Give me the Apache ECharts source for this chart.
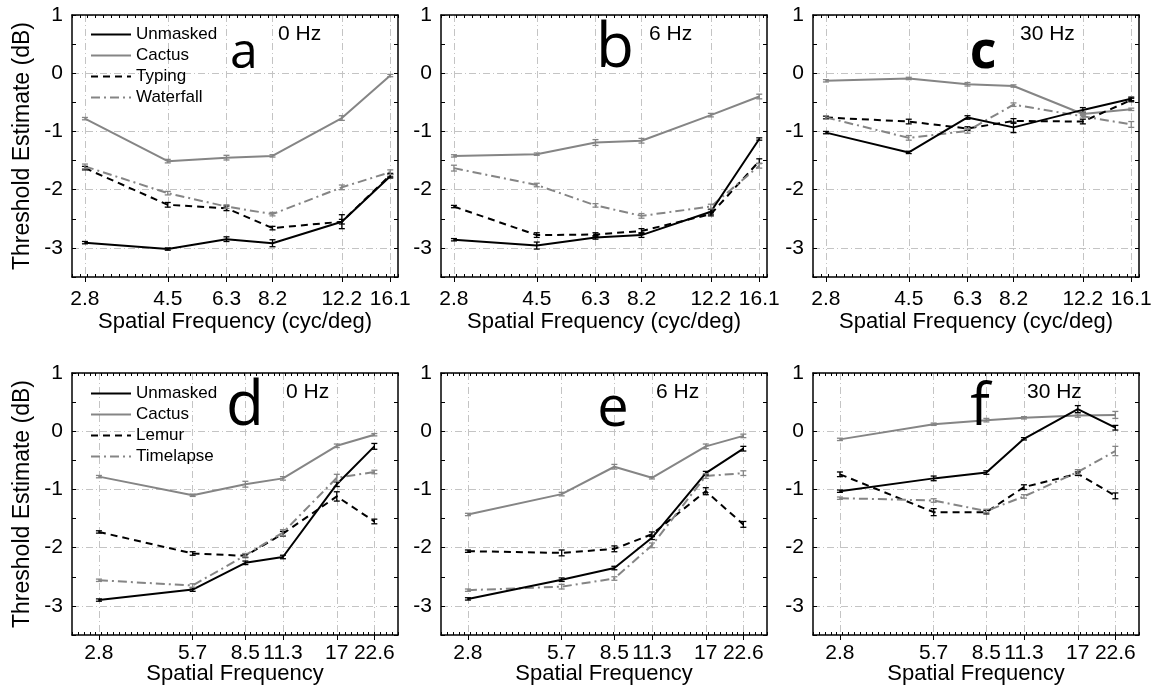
<!DOCTYPE html>
<html>
<head>
<meta charset="UTF-8">
<title>Threshold estimates</title>
<script src="https://cdn.jsdelivr.net/npm/echarts@6/dist/echarts.min.js"></script>
<style>html,body{margin:0;padding:0;background:#fff;}</style>
</head>
<body>
<div id="chart" style="width:1162px;height:693px;"></div>
<script>
// x values (cyc/deg) and tick labels
var freqTop = [2.8, 4.5, 6.3, 8.2, 12.2, 16.1];
var freqBottom = [2.8, 5.7, 8.5, 11.3, 17, 22.6];
var namesTop = ['Unmasked', 'Cactus', 'Typing', 'Waterfall'];
var namesBottom = ['Unmasked', 'Cactus', 'Lemur', 'Timelapse'];
var yLabels = [-3, -2, -1, 0, 1];

// panel a - 0 Hz
var aUnmasked = [-2.91, -3.02, -2.85, -2.92, -2.55, -1.77];
var aCactus = [-0.78, -1.51, -1.45, -1.42, -0.77, -0.04];
var aTyping = [-1.63, -2.26, -2.32, -2.66, -2.55, -1.75];
var aWaterfall = [-1.60, -2.06, -2.29, -2.42, -1.96, -1.70];
var aUnmaskedErr = [0.02, 0.02, 0.04, 0.06, 0.12, 0.03];
var aCactusErr = [0.02, 0.03, 0.04, 0.02, 0.04, 0.02];
var aTypingErr = [0.03, 0.04, 0.04, 0.03, 0.04, 0.03];
var aWaterfallErr = [0.04, 0.03, 0.03, 0.03, 0.04, 0.04];

// panel b - 6 Hz
var bUnmasked = [-2.86, -2.96, -2.82, -2.78, -2.38, -1.13];
var bCactus = [-1.42, -1.39, -1.19, -1.16, -0.72, -0.40];
var bTyping = [-2.29, -2.78, -2.77, -2.71, -2.42, -1.51];
var bWaterfall = [-1.63, -1.92, -2.27, -2.45, -2.29, -1.59];
var bUnmaskedErr = [0.02, 0.06, 0.03, 0.04, 0.04, 0.02];
var bCactusErr = [0.02, 0.02, 0.05, 0.04, 0.03, 0.04];
var bTypingErr = [0.02, 0.04, 0.03, 0.04, 0.03, 0.04];
var bWaterfallErr = [0.05, 0.03, 0.03, 0.04, 0.04, 0.04];

// panel c - 30 Hz
var cUnmasked = [-1.02, -1.36, -0.76, -0.93, -0.63, -0.44];
var cCactus = [-0.13, -0.09, -0.19, -0.22, -0.70, -0.62];
var cTyping = [-0.76, -0.83, -0.95, -0.82, -0.83, -0.46];
var cWaterfall = [-0.76, -1.11, -0.99, -0.54, -0.74, -0.88];
var cUnmaskedErr = [0.02, 0.02, 0.03, 0.09, 0.04, 0.03];
var cCactusErr = [0.02, 0.02, 0.03, 0.02, 0.03, 0.02];
var cTypingErr = [0.02, 0.04, 0.03, 0.04, 0.04, 0.03];
var cWaterfallErr = [0.03, 0.04, 0.04, 0.03, 0.03, 0.05];

// panel d - 0 Hz
var dUnmasked = [-2.90, -2.72, -2.26, -2.16, -0.91, -0.26];
var dCactus = [-0.78, -1.10, -0.91, -0.81, -0.25, -0.06];
var dLemur = [-1.73, -2.10, -2.14, -1.76, -1.12, -1.55];
var dTimelapse = [-2.56, -2.65, -2.13, -1.74, -0.80, -0.70];
var dUnmaskedErr = [0.02, 0.03, 0.03, 0.03, 0.04, 0.05];
var dCactusErr = [0.02, 0.02, 0.05, 0.03, 0.03, 0.02];
var dLemurErr = [0.02, 0.03, 0.03, 0.04, 0.08, 0.04];
var dTimelapseErr = [0.02, 0.03, 0.03, 0.05, 0.06, 0.03];

// panel e - 6 Hz
var eUnmasked = [-2.88, -2.55, -2.35, -1.83, -0.72, -0.30];
var eCactus = [-1.43, -1.08, -0.61, -0.80, -0.26, -0.08];
var eLemur = [-2.06, -2.09, -2.02, -1.77, -1.03, -1.60];
var eTimelapse = [-2.73, -2.67, -2.53, -1.96, -0.77, -0.72];
var eUnmaskedErr = [0.02, 0.03, 0.03, 0.03, 0.03, 0.04];
var eCactusErr = [0.02, 0.03, 0.04, 0.02, 0.04, 0.03];
var eLemurErr = [0.02, 0.05, 0.05, 0.04, 0.06, 0.05];
var eTimelapseErr = [0.02, 0.04, 0.03, 0.04, 0.04, 0.04];

// panel f - 30 Hz
var fUnmasked = [-1.03, -0.81, -0.71, -0.13, 0.38, 0.06];
var fCactus = [-0.14, 0.12, 0.19, 0.23, 0.27, 0.28];
var fLemur = [-0.74, -1.39, -1.39, -0.96, -0.73, -1.11];
var fTimelapse = [-1.15, -1.19, -1.37, -1.12, -0.70, -0.34];
var fUnmaskedErr = [0.02, 0.04, 0.03, 0.02, 0.06, 0.04];
var fCactusErr = [0.02, 0.02, 0.03, 0.02, 0.03, 0.06];
var fLemurErr = [0.04, 0.06, 0.03, 0.04, 0.03, 0.05];
var fTimelapseErr = [0.02, 0.03, 0.03, 0.03, 0.04, 0.08];

var FONT = '"Liberation Sans", Arial, Helvetica, sans-serif';
var LETTER_FONT = '"Open Sans", "Liberation Sans", sans-serif';
var BLACK = '#000000';
var GRAY = '#858585';
var GRID_COLOR = '#c4c4c4';

var panels = [
  {letter: 'a', hz: '0 Hz', row: 0, col: 0, freqs: freqTop, names: namesTop,
   vals: [aUnmasked, aCactus, aTyping, aWaterfall], errs: [aUnmaskedErr, aCactusErr, aTypingErr, aWaterfallErr]},
  {letter: 'b', hz: '6 Hz', row: 0, col: 1, freqs: freqTop, names: namesTop,
   vals: [bUnmasked, bCactus, bTyping, bWaterfall], errs: [bUnmaskedErr, bCactusErr, bTypingErr, bWaterfallErr]},
  {letter: 'c', hz: '30 Hz', row: 0, col: 2, freqs: freqTop, names: namesTop,
   vals: [cUnmasked, cCactus, cTyping, cWaterfall], errs: [cUnmaskedErr, cCactusErr, cTypingErr, cWaterfallErr]},
  {letter: 'd', hz: '0 Hz', row: 1, col: 0, freqs: freqBottom, names: namesBottom,
   vals: [dUnmasked, dCactus, dLemur, dTimelapse], errs: [dUnmaskedErr, dCactusErr, dLemurErr, dTimelapseErr]},
  {letter: 'e', hz: '6 Hz', row: 1, col: 1, freqs: freqBottom, names: namesBottom,
   vals: [eUnmasked, eCactus, eLemur, eTimelapse], errs: [eUnmaskedErr, eCactusErr, eLemurErr, eTimelapseErr]},
  {letter: 'f', hz: '30 Hz', row: 1, col: 2, freqs: freqBottom, names: namesBottom,
   vals: [fUnmasked, fCactus, fLemur, fTimelapse], errs: [fUnmaskedErr, fCactusErr, fLemurErr, fTimelapseErr]}
];

// layout
var gridLeft = [72, 441, 813];
var gridTop = [15, 373];
var gridW = 326, gridH = 262;
var xRange = [[2.6, 16.83], [2.283, 27.04]];
var xTitle = ['Spatial Frequency (cyc/deg)', 'Spatial Frequency'];
var xTitleGap = [34, 28];
var xLabelMargin = [12, 8];
var seriesColor = [BLACK, GRAY, BLACK, GRAY];
var seriesDash = ['solid', 'solid', [7, 5], [9, 4, 2, 4]];
var MINOR_STEP = 0.045;   // spacing of the small frame ticks, in ln(cyc/deg)

function fmt(v) { return String(Math.round(v * 10) / 10); }

// decorative axis carrying only the small inward ticks of the frame (log-spaced)
function minorAxis(i, r, pos, withLine) {
  return {
    type: 'value', gridIndex: i, position: pos,
    min: Math.log(r[0]), max: Math.log(r[1]), interval: MINOR_STEP,
    axisLine: {show: withLine, onZero: false, lineStyle: {color: BLACK, width: 1.5}},
    axisTick: {show: true, inside: true, length: 3, lineStyle: {color: BLACK, width: 1}},
    axisLabel: {show: false}, splitLine: {show: false}
  };
}

var grids = [], xAxes = [], yAxes = [], series = [], graphics = [];

panels.forEach(function (p, i) {
  var r = xRange[p.row];
  grids.push({left: gridLeft[p.col], top: gridTop[p.row], width: gridW, height: gridH, containLabel: false});
  // main bottom axis
  xAxes.push({
    type: 'log', gridIndex: i, position: 'bottom', min: r[0], max: r[1],
    name: xTitle[p.row], nameLocation: 'middle', nameGap: xTitleGap[p.row], nameMoveOverlap: false,
    nameTextStyle: {fontFamily: FONT, fontSize: 22, color: BLACK},
    axisLine: {show: true, onZero: false, lineStyle: {color: BLACK, width: 1.5}},
    axisTick: {show: true, inside: false, length: 5, customValues: p.freqs, lineStyle: {color: BLACK, width: 1}},
    axisLabel: {show: true, customValues: p.freqs, formatter: fmt, margin: xLabelMargin[p.row],
      fontFamily: FONT, fontSize: 21, color: BLACK},
    splitLine: {show: true, lineStyle: {color: GRID_COLOR, width: 1, type: [7, 3, 1, 3]}}
  });
  xAxes.push(minorAxis(i, r, 'bottom', false));
  xAxes.push(minorAxis(i, r, 'top', true));
  // left axis
  yAxes.push({
    type: 'value', gridIndex: i, position: 'left', min: -3.5, max: 1,
    name: p.col === 0 ? 'Threshold Estimate (dB)' : '', nameLocation: 'middle', nameGap: 38,
    nameTextStyle: {fontFamily: FONT, fontSize: 23, color: BLACK},
    axisLine: {show: true, onZero: false, lineStyle: {color: BLACK, width: 1.5}},
    axisTick: {show: true, inside: true, length: 4, customValues: yLabels, lineStyle: {color: BLACK}},
    axisLabel: {show: true, customValues: yLabels, margin: 9, fontFamily: FONT, fontSize: 21, color: BLACK},
    splitLine: {show: true, lineStyle: {color: GRID_COLOR, width: 1, type: [7, 3, 1, 3]}}
  });
  // left inner ticks every 0.5
  yAxes.push({
    type: 'value', gridIndex: i, position: 'left', min: -3.5, max: 1, interval: 0.5,
    axisLine: {show: false, onZero: false},
    axisTick: {show: true, inside: true, length: 4, lineStyle: {color: BLACK}},
    axisLabel: {show: false}, splitLine: {show: false}
  });
  // right frame
  yAxes.push({
    type: 'value', gridIndex: i, position: 'right', min: -3.5, max: 1, interval: 0.5,
    axisLine: {show: true, onZero: false, lineStyle: {color: BLACK, width: 1.5}},
    axisTick: {show: true, inside: true, length: 4, lineStyle: {color: BLACK}},
    axisLabel: {show: false}, splitLine: {show: false}
  });

  p.names.forEach(function (name, s) {
    var color = seriesColor[s];
    series.push({
      name: name, type: 'line', xAxisIndex: 3 * i, yAxisIndex: 3 * i,
      data: p.freqs.map(function (f, k) { return [f, p.vals[s][k]]; }),
      symbol: 'circle', showSymbol: false, z: s === 0 ? 5 : 4,
      lineStyle: {color: color, width: 2, type: seriesDash[s]},
      itemStyle: {color: color},
      animation: false
    });
    series.push({
      name: name + ' error', type: 'custom', xAxisIndex: 3 * i, yAxisIndex: 3 * i,
      data: p.freqs.map(function (f, k) { return [f, p.vals[s][k] - p.errs[s][k], p.vals[s][k] + p.errs[s][k]]; }),
      encode: {x: 0, y: [1, 2]}, z: 6, animation: false,
      renderItem: function (params, api) {
        var lo = api.coord([api.value(0), api.value(1)]);
        var hi = api.coord([api.value(0), api.value(2)]);
        var w = 3;
        var st = {stroke: color, lineWidth: 1.3};
        return {type: 'group', children: [
          {type: 'line', shape: {x1: lo[0], y1: lo[1], x2: hi[0], y2: hi[1]}, style: st},
          {type: 'line', shape: {x1: lo[0] - w, y1: lo[1], x2: lo[0] + w, y2: lo[1]}, style: st},
          {type: 'line', shape: {x1: hi[0] - w, y1: hi[1], x2: hi[0] + w, y2: hi[1]}, style: st}
        ]};
      }
    });
  });
});

// panel letters and temporal frequency labels (baseline positions)
var letterPos = [[244, 72, 50, 'normal'], [615, 72, 62, 'normal'], [983, 72, 52, 'bold'],
                 [245, 430, 62, 'normal'], [613, 430, 56, 'normal'], [980, 429, 58, 'normal']];
var hzPos = [[278, 42], [649, 42], [1020, 42], [286, 400], [656, 400], [1027, 400]];
panels.forEach(function (p, i) {
  var lp = letterPos[i];
  graphics.push({type: 'text', x: lp[0], y: lp[1] - 0.86 * lp[2], z: 10,
    style: {text: p.letter, fill: BLACK, font: lp[3] + ' ' + lp[2] + 'px ' + LETTER_FONT,
      textAlign: 'center', textVerticalAlign: 'top'}});
  var hp = hzPos[i];
  graphics.push({type: 'text', x: hp[0], y: hp[1] - 0.86 * 21, z: 10,
    style: {text: p.hz, fill: BLACK, font: '21px ' + FONT, textAlign: 'left', textVerticalAlign: 'top'}});
});

var legendBase = {
  orient: 'vertical', itemWidth: 40, itemHeight: 14, itemGap: 4, selectedMode: false,
  itemStyle: {opacity: 0}, lineStyle: {width: 2},
  textStyle: {fontFamily: FONT, fontSize: 17, color: BLACK}
};
var chart = echarts.init(document.getElementById('chart'));
chart.setOption({
  backgroundColor: '#ffffff',
  animation: false,
  grid: grids,
  xAxis: xAxes,
  yAxis: yAxes,
  legend: [
    Object.assign({}, legendBase, {data: namesTop, left: 85, top: 21}),
    Object.assign({}, legendBase, {data: namesBottom, left: 85, top: 380})
  ],
  graphic: graphics,
  series: series
});
</script>
</body>
</html>
